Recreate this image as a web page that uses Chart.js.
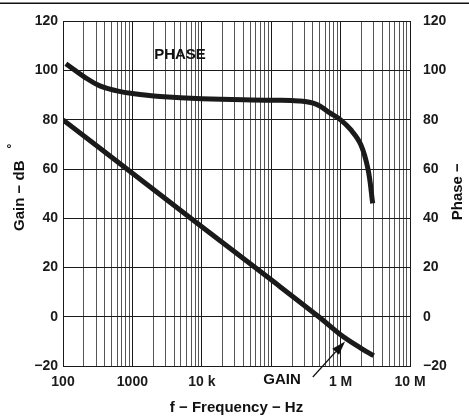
<!DOCTYPE html>
<html>
<head>
<meta charset="utf-8">
<script src="https://cdn.jsdelivr.net/npm/chart.js@4/dist/chart.umd.min.js"></script>
<style>
html,body{margin:0;padding:0;background:#fff;}
#wrap{width:469px;height:418px;position:relative;}
</style>
</head>
<body>
<div id="wrap"><canvas id="c" width="469" height="418"></canvas></div>
<script>
// ---- data ----
const xDecades = [100, 1000, 10000, 100000, 1000000, 10000000];
const xTickLabels = ['100', '1000', '10 k', '', '1 M', '10 M'];
const yTicks = [-20, 0, 20, 40, 60, 80, 100, 120];
const yTickLabels = ['\u221220', '0', '20', '40', '60', '80', '100', '120'];

const gainFreq = [100, 1000, 10000, 100000, 500000, 1000000, 2000000, 3000000];
const gainDb   = [80, 58.3, 36.6, 15, -0.3, -7.3, -12.9, -15.8];

const phaseFreq = [110, 200, 340, 600, 1000, 2500, 10000, 100000, 250000, 450000, 700000, 1000000, 1400000, 1950000, 2480000, 2900000];
const phaseDeg  = [102.8, 97.6, 93.8, 91.8, 90.7, 89.5, 88.6, 88, 87.7, 86.3, 82.8, 80, 76, 70, 60, 46.1];

const FONT = '"Liberation Sans", Arial, Helvetica, sans-serif';

// all 1..9 x 10^n grid positions
const gridVals = [];
for (let i = 0; i < xDecades.length; i++) {
  const d = xDecades[i];
  if (i === xDecades.length - 1) { gridVals.push(d); break; }
  for (let m = 1; m <= 9; m++) gridVals.push(m * d);
}

const extras = {
  id: 'extras',
  afterDraw(chart) {
    const ctx = chart.ctx;
    const a = chart.chartArea;
    const xs = chart.scales.x, ys = chart.scales.y;
    ctx.save();
    ctx.fillStyle = '#111';
    ctx.fillRect(0, 2.5, chart.width, 1.5);

    ctx.textAlign = 'center';
    ctx.textBaseline = 'middle';
    ctx.font = 'bold 15px ' + FONT;
    ctx.fillText('PHASE', xs.getPixelForValue(4850), ys.getPixelForValue(106.5));
    ctx.fillText('GAIN', xs.getPixelForValue(143000), a.bottom + 14);
    ctx.fillText('f \u2212 Frequency \u2212 Hz', (a.left + a.right) / 2, a.bottom + 42);
    ctx.save();
    ctx.translate(20, (a.top + a.bottom) / 2 + 2);
    ctx.rotate(-Math.PI / 2);
    ctx.fillText('Gain \u2212 dB', 0, 0);
    ctx.restore();
    ctx.save();
    ctx.translate(13, 146);
    ctx.rotate(-Math.PI / 2);
    ctx.font = 'bold 12px ' + FONT;
    ctx.fillText('\u00B0', 0, 0);
    ctx.restore();
    ctx.save();
    ctx.translate(chart.width - 11, (a.top + a.bottom) / 2 - 2);
    ctx.rotate(-Math.PI / 2);
    ctx.fillText('Phase \u2212', 0, 0);
    ctx.restore();

    const tx = xs.getPixelForValue(1160000), ty = ys.getPixelForValue(-10);
    const sx = xs.getPixelForValue(398000), sy = a.bottom + 11;
    const ang = Math.atan2(ty - sy, tx - sx);
    const L = 14, W = 4.5;
    const bx = tx - L * Math.cos(ang), by = ty - L * Math.sin(ang);
    ctx.strokeStyle = '#111';
    ctx.lineWidth = 1.2;
    ctx.beginPath();
    ctx.moveTo(sx, sy);
    ctx.lineTo(bx, by);
    ctx.stroke();
    ctx.beginPath();
    ctx.moveTo(tx, ty);
    ctx.lineTo(bx + W * Math.sin(ang), by - W * Math.cos(ang));
    ctx.lineTo(bx - W * Math.sin(ang), by + W * Math.cos(ang));
    ctx.closePath();
    ctx.fill();
    ctx.restore();
  }
};

new Chart(document.getElementById('c'), {
  type: 'line',
  data: {
    datasets: [
      {
        label: 'GAIN',
        data: gainFreq.map((f, i) => ({x: f, y: gainDb[i]})),
        borderColor: '#1a1a1a',
        borderWidth: 5,
        pointRadius: 0,
        tension: 0.4,
        yAxisID: 'y',
        borderCapStyle: 'butt'
      },
      {
        label: 'PHASE',
        data: phaseFreq.map((f, i) => ({x: f, y: phaseDeg[i]})),
        borderColor: '#1a1a1a',
        borderWidth: 5,
        pointRadius: 0,
        tension: 0.4,
        yAxisID: 'y2',
        borderCapStyle: 'butt'
      }
    ]
  },
  options: {
    responsive: false,
    animation: false,
    events: [],
    layout: {padding: {top: 18, left: 0, right: 0, bottom: 0}},
    plugins: {legend: {display: false}, tooltip: {enabled: false}},
    scales: {
      x: {
        type: 'logarithmic',
        min: 100, max: 10000000,
        afterBuildTicks(s) { s.ticks = gridVals.map(v => ({value: v})); },
        afterFit(s) { s.height = 52; },
        grid: {
          drawTicks: false,
          color: ctx => (ctx.tick && xDecades.includes(ctx.tick.value)) ? '#1a1a1a' : '#555',
          lineWidth: 1
        },
        border: {display: true, color: '#1a1a1a', width: 1},
        ticks: {
          autoSkip: false, maxRotation: 0, padding: 8, color: '#1a1a1a',
          font: {family: FONT, size: 14, weight: 'bold'},
          callback(v) { const i = xDecades.indexOf(v); return i >= 0 ? xTickLabels[i] : ''; }
        }
      },
      y: {
        position: 'left',
        min: -20, max: 120,
        afterBuildTicks(s) { s.ticks = yTicks.map(v => ({value: v})); },
        afterFit(s) { s.width = 63; },
        grid: {drawTicks: false, color: '#1a1a1a', lineWidth: 1},
        border: {display: true, color: '#1a1a1a', width: 1},
        ticks: {
          padding: 5, color: '#1a1a1a',
          font: {family: FONT, size: 14, weight: 'bold'},
          callback(v) { const i = yTicks.indexOf(v); return i >= 0 ? yTickLabels[i] : ''; }
        }
      },
      y2: {
        position: 'right',
        min: -20, max: 120,
        afterBuildTicks(s) { s.ticks = yTicks.map(v => ({value: v})); },
        afterFit(s) { s.width = 59; },
        grid: {display: false, drawTicks: false},
        border: {display: true, color: '#1a1a1a', width: 1},
        ticks: {
          padding: 13, color: '#1a1a1a',
          font: {family: FONT, size: 14, weight: 'bold'},
          callback(v) { const i = yTicks.indexOf(v); return i >= 0 ? yTickLabels[i] : ''; }
        }
      }
    }
  },
  plugins: [extras]
});
</script>
</body>
</html>
